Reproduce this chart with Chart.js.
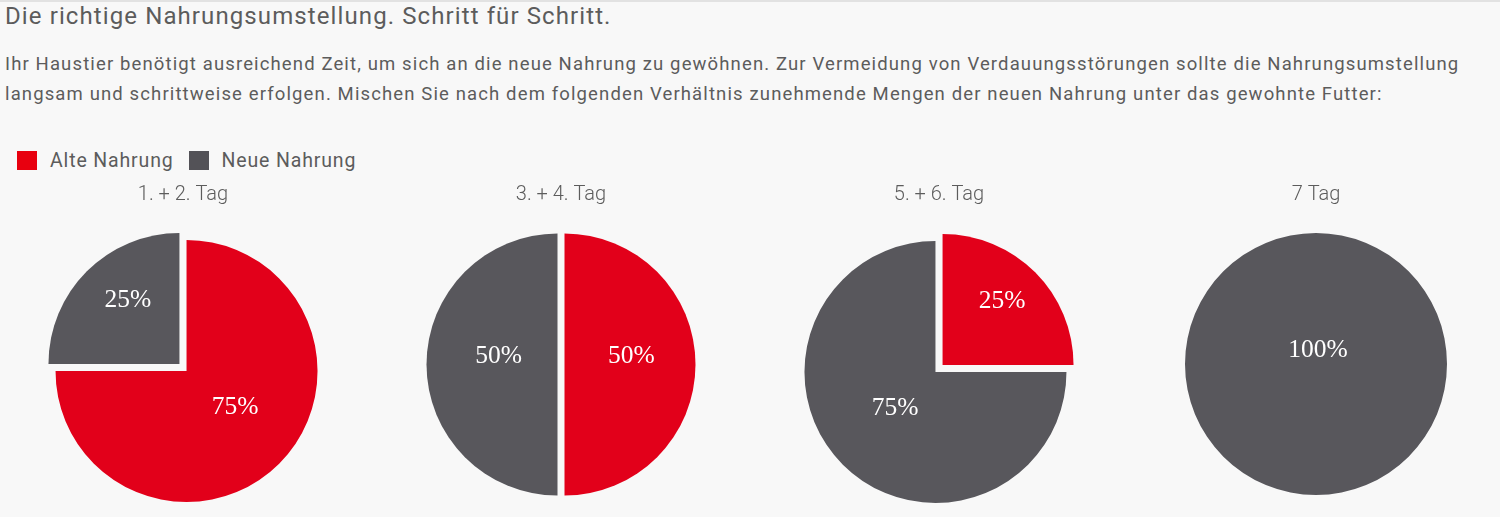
<!DOCTYPE html>
<html>
<head>
<meta charset="utf-8">
<script src="https://cdn.jsdelivr.net/npm/chart.js@4"></script>
<style>
  html, body { margin: 0; padding: 0; }
  body { width: 1500px; height: 517px; background: #f8f8f8; position: relative; overflow: hidden;
         font-family: Roboto, "Liberation Sans", sans-serif; font-weight: 400; color: #5c5c5c; }
  #topline { position: absolute; left: 0; top: 0; width: 1500px; height: 2px; background: #e2e2e2; }
  #title { position: absolute; left: 5px; top: 1px; font-size: 24px; line-height: 30px; white-space: nowrap; letter-spacing: 1.1px; }
  #intro { position: absolute; left: 5px; top: 49px; font-size: 18.5px; line-height: 30px; white-space: nowrap; letter-spacing: 1.13px; }
  #legend { position: absolute; left: 17px; top: 149px; font-size: 19.5px; display: flex; align-items: center; white-space: nowrap; letter-spacing: 0.85px; }
  #legend .sw { display: inline-block; width: 20px; height: 19px; margin-right: 13px; }
  #legend .item { display: flex; align-items: center; margin-right: 15px; }
  .pie { position: absolute; top: 183px; width: 300px; height: 334px; }
</style>
</head>
<body>
<div id="topline"></div>
<div id="title">Die richtige Nahrungsumstellung. Schritt für Schritt.</div>
<div id="intro">Ihr Haustier benötigt ausreichend Zeit, um sich an die neue Nahrung zu gewöhnen. Zur Vermeidung von Verdauungsstörungen sollte die Nahrungsumstellung<br>langsam und schrittweise erfolgen. Mischen Sie nach dem folgenden Verhältnis zunehmende Mengen der neuen Nahrung unter das gewohnte Futter:</div>
<div id="legend"></div>
<div class="pie" style="left:32.5px"><canvas id="c0"></canvas></div>
<div class="pie" style="left:410.5px"><canvas id="c1"></canvas></div>
<div class="pie" style="left:788.5px"><canvas id="c2"></canvas></div>
<div class="pie" style="left:1166px"><canvas id="c3"></canvas></div>
<script>
// ---- data ----
const days = ["1. + 2. Tag", "3. + 4. Tag", "5. + 6. Tag", "7 Tag"];
const seriesNames = ["Alte Nahrung", "Neue Nahrung"];
const alteNahrung = [75, 50, 25, 0];
const neueNahrung = [25, 50, 75, 100];

// ---- styles ----
const colors = ["#e2001a", "#58575c"];
const legendColors = ["#e8000f", "#535257"];
const explodeDist = [5, 3.5, 5, 0];
const titleGap = [11, 5, 13, 4];

// legend
const legend = document.getElementById('legend');
seriesNames.forEach((n, i) => {
  const it = document.createElement('div');
  it.className = 'item';
  const sw = document.createElement('span');
  sw.className = 'sw';
  sw.style.background = legendColors[i];
  it.appendChild(sw);
  it.appendChild(document.createTextNode(n));
  legend.appendChild(it);
});

// draws every slice pushed out along its mid angle
const explode = {
  id: 'explode',
  beforeDatasetDraw(chart, args, opts) {
    const d = opts.distance || 0;
    const ctx = chart.ctx;
    args.meta.data.forEach(arc => {
      const p = arc.getProps(['startAngle', 'endAngle', 'circumference'], true);
      const mid = (p.startAngle + p.endAngle) / 2;
      ctx.save();
      if (p.circumference < 2 * Math.PI - 1e-6) ctx.translate(Math.cos(mid) * d, Math.sin(mid) * d);
      arc.draw(ctx, chart.chartArea);
      ctx.restore();
    });
    return false;
  }
};

const pctLabels = {
  id: 'pctLabels',
  afterDatasetsDraw(chart) {
    const ctx = chart.ctx;
    const meta = chart.getDatasetMeta(0);
    const ds = chart.data.datasets[0];
    const total = ds.data.reduce((a, b) => a + b, 0);
    const d = chart.options.plugins.explode.distance || 0;
    ctx.save();
    ctx.fillStyle = '#ffffff';
    ctx.font = '25.5px "Liberation Serif", "DejaVu Serif", serif';
    ctx.textAlign = 'center';
    ctx.textBaseline = 'middle';
    meta.data.forEach((arc, i) => {
      const v = ds.data[i];
      if (!v) return;
      const p = arc.getProps(['x', 'y', 'startAngle', 'endAngle', 'outerRadius'], true);
      const frac = v / total;
      let x, y;
      if (frac >= 0.999) {
        x = p.x + 2; y = p.y - 14;
      } else {
        const mid = (p.startAngle + p.endAngle) / 2;
        const k = frac < 0.5 ? 0.6 : 0.48;
        const r = d + p.outerRadius * k;
        x = p.x + Math.cos(mid) * r + 4;
        y = p.y + Math.sin(mid) * r - 8.5;
      }
      ctx.fillText(Math.round(frac * 100) + '%', x, y);
    });
    ctx.restore();
  }
};

days.forEach((d, i) => {
  new Chart(document.getElementById('c' + i), {
    type: 'pie',
    data: {
      labels: seriesNames,
      datasets: [{
        data: [alteNahrung[i], neueNahrung[i]],
        backgroundColor: colors,
        borderWidth: 0,
        radius: 131
      }]
    },
    options: {
      responsive: true,
      maintainAspectRatio: false,
      animation: false,
      layout: { padding: 0 },
      plugins: {
        legend: { display: false },
        tooltip: { enabled: false },
        explode: { distance: explodeDist[i] },
        title: {
          display: true,
          text: d,
          color: '#5c5c5c',
          font: { family: 'Roboto, "Liberation Sans", sans-serif', size: 20, weight: '300', lineHeight: 1.2 },
          padding: { top: 0, bottom: titleGap[i] }
        }
      }
    },
    plugins: [explode, pctLabels]
  });
});
</script>
</body>
</html>
